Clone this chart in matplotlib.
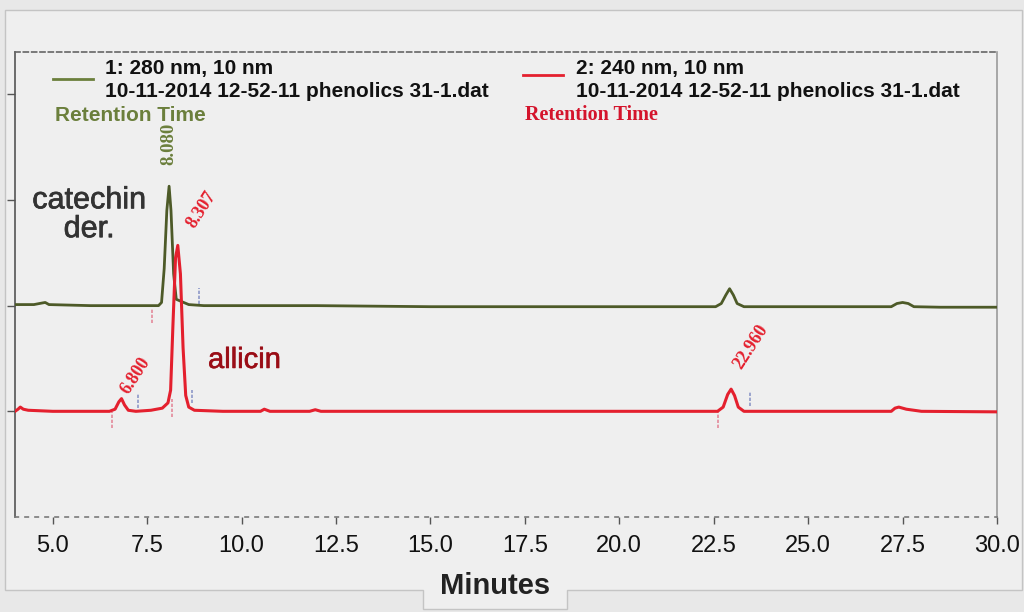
import matplotlib
matplotlib.use("Agg")
import matplotlib.pyplot as plt
import matplotlib.patheffects as pe
from matplotlib.patches import PathPatch
from matplotlib.path import Path
from matplotlib.lines import Line2D

W, H = 1024, 612

# Channel 1: 280 nm trace (minutes, signal)
ch1_time = [4.0, 4.5, 4.72, 4.8, 4.9, 6.0, 7.0, 7.8, 7.88, 7.95, 8.02, 8.08,
            8.13, 8.2, 8.27, 8.4, 8.6, 9.0, 12.0, 15.0, 20.0, 22.55, 22.7,
            22.82, 22.92, 23.02, 23.12, 23.3, 25.0, 27.2, 27.35, 27.5, 27.65,
            27.8, 28.5, 30.0]
ch1_signal = [2.01, 2.01, 2.025, 2.03, 2.01, 2.0, 2.0, 2.0, 2.03, 2.35, 2.9,
              3.13, 2.9, 2.3, 2.06, 2.04, 2.01, 2.0, 2.0, 1.99, 1.99, 1.99,
              2.02, 2.1, 2.16, 2.1, 2.02, 1.99, 1.99, 1.99, 2.02, 2.03, 2.02,
              1.99, 1.985, 1.985]

# Channel 2: 240 nm trace
ch2_time = [4.0, 4.08, 4.14, 4.22, 4.35, 5.0, 6.5, 6.65, 6.75, 6.82, 6.9,
            7.0, 7.2, 7.6, 7.9, 8.05, 8.12, 8.18, 8.25, 8.31, 8.38, 8.45,
            8.52, 8.6, 8.75, 9.5, 10.5, 10.6, 10.75, 11.8, 11.95, 12.1, 15.0,
            20.0, 22.6, 22.75, 22.87, 22.96, 23.05, 23.15, 23.3, 25.0, 27.2,
            27.3, 27.4, 27.6, 28.0, 30.0]
ch2_signal = [1.0, 1.02, 1.04, 1.02, 1.01, 1.0, 1.0, 1.02, 1.09, 1.12, 1.06,
              1.01, 1.0, 1.01, 1.03, 1.08, 1.2, 1.8, 2.45, 2.57, 2.3, 1.6,
              1.15, 1.04, 1.01, 1.0, 1.0, 1.02, 1.0, 1.0, 1.015, 1.0, 1.0,
              1.0, 1.0, 1.04, 1.16, 1.21, 1.15, 1.04, 1.0, 1.0, 1.0, 1.03,
              1.04, 1.02, 1.0, 0.995]

# Retention time labels
ch1_peak_times = ["8.080"]
ch1_peak_pos = [(8.08, 3.33)]
ch2_peak_times = ["6.800", "8.307", "22.960"]
ch2_peak_pos = [(6.70, 1.13), (8.45, 2.70), (22.94, 1.37)]

# Integration start / end markers: (time, y_low, y_high)
ch1_starts = [(7.63, 1.84, 1.98)]
ch1_ends = [(8.87, 2.02, 2.17)]
ch2_starts = [(6.57, 0.84, 0.99), (8.16, 0.95, 1.12), (22.62, 0.84, 0.99)]
ch2_ends = [(7.26, 1.03, 1.17), (8.69, 1.08, 1.20), (23.47, 1.05, 1.19)]

x_ticks = [5.0, 7.5, 10.0, 12.5, 15.0, 17.5, 20.0, 22.5, 25.0, 27.5, 30.0]
x_ticklabels = ["5.0", "7.5", "10.0", "12.5", "15.0", "17.5", "20.0", "22.5",
                "25.0", "27.5", "30.0"]

GREEN = "#4d5a28"
GREEN_TXT = "#6b7f3c"
RED = "#e4202e"
DARKRED = "#9a0d16"
PINK = "#e38a9a"
BLUE = "#8d98c8"


def fx(x):
    return x / W


def fy(y):
    return 1 - y / H


fig = plt.figure(figsize=(W / 100, H / 100), dpi=100, facecolor="#e8e8e8")

# Panel background with the tab holding the axis title
verts = [(5, 10), (1022, 10), (1022, 590), (567, 590), (567, 609), (423, 609),
         (423, 590), (5, 590), (5, 10)]
panel = Path([(fx(a), fy(b)) for a, b in verts], closed=True)
fig.patches.append(PathPatch(panel, transform=fig.transFigure,
                             facecolor="#efefef", edgecolor="#c4c4c4", lw=1.0,
                             zorder=-5))

ax = fig.add_axes([fx(15), fy(517), fx(997) - fx(15), fy(52) - fy(517)])
ax.set_zorder(2)
ax.set_facecolor("none")
ax.set_xlim(4.0, 30.0)
ax.set_ylim(0.0, 4.4)

ax.plot(ch1_time, ch1_signal, color=GREEN, lw=2.0, zorder=3,
        solid_joinstyle="round")
ax.plot(ch2_time, ch2_signal, color=RED, lw=2.2, zorder=4,
        solid_joinstyle="round")

for t, lo, hi in ch1_starts + ch2_starts:
    ax.plot([t, t], [lo, hi], color=PINK, lw=1.2, ls=(0, (2, 1)), zorder=2)
for t, lo, hi in ch1_ends + ch2_ends:
    ax.plot([t, t], [lo, hi], color=BLUE, lw=1.2, ls=(0, (2, 1)), zorder=2)

serif = ["Liberation Serif", "DejaVu Serif"]
for lab, (t, y) in zip(ch1_peak_times, ch1_peak_pos):
    ax.text(t, y, lab, rotation=90, ha="center", va="bottom", color=GREEN_TXT,
            fontsize=13.5, fontweight="bold", family=serif)
for lab, (t, y) in zip(ch2_peak_times, ch2_peak_pos):
    ax.text(t, y, lab, rotation=57, ha="left", va="bottom", color=RED,
            fontsize=13, fontweight="bold", family=serif)

sans = ["Liberation Sans", "DejaVu Sans"]
ax.text(5.96, 2.86, "catechin\nder.", ha="center", va="center",
        color="#333333", fontsize=22, family=sans, linespacing=0.95,
        path_effects=[pe.withStroke(linewidth=0.5, foreground="#333333")])
ax.text(9.11, 1.41, "allicin", ha="left", va="baseline", color=DARKRED,
        fontsize=21, family=sans,
        path_effects=[pe.withStroke(linewidth=0.4, foreground=DARKRED)])

# Spines and ticks
for s in ax.spines.values():
    s.set_linewidth(1.2)
ax.spines["left"].set_color("#555555")
ax.spines["bottom"].set_color("#7a7a7a")
ax.spines["bottom"].set_linestyle((0, (2, 4)))
ax.spines["top"].set_color("#666666")
ax.spines["top"].set_linestyle((0, (3, 2)))
ax.spines["right"].set_color("#9a9a9a")

ax.set_xticks(x_ticks)
ax.set_xticklabels(x_ticklabels, family=sans, fontsize=17, color="#111111")
ax.tick_params(axis="x", direction="out", length=5, width=1.0,
               color="#555555", pad=8)
ax.set_yticks([1, 2, 3, 4])
ax.set_yticklabels([])
ax.tick_params(axis="y", direction="out", length=6, width=1.0,
               color="#555555")

fig.text(fx(495), fy(594), "Minutes", ha="center", va="baseline",
         fontsize=21, fontweight="bold", color="#222222", family=sans)

# Channel legend
fig.lines.append(Line2D([fx(53), fx(93)], [fy(79), fy(79)], color=GREEN_TXT,
                        lw=2.0, transform=fig.transFigure))
fig.lines.append(Line2D([fx(523), fx(563)], [fy(75), fy(75)], color=RED,
                        lw=2.0, transform=fig.transFigure))
legend_kw = dict(fontsize=15, fontweight="bold", color="#111111",
                 family=sans, va="baseline", ha="left")
fig.text(fx(105), fy(74), "1: 280 nm, 10 nm", **legend_kw)
fig.text(fx(105), fy(97), "10-11-2014 12-52-11 phenolics 31-1.dat", **legend_kw)
fig.text(fx(576), fy(74), "2: 240 nm, 10 nm", **legend_kw)
fig.text(fx(576), fy(97), "10-11-2014 12-52-11 phenolics 31-1.dat", **legend_kw)
fig.text(fx(55), fy(121), "Retention Time", fontsize=15, fontweight="bold",
         color=GREEN_TXT, family=sans, va="baseline", ha="left")
fig.text(fx(525), fy(120), "Retention Time", fontsize=14.5, fontweight="bold",
         color="#d4142c", family=serif, va="baseline", ha="left")

fig.savefig("out.png", dpi=100, facecolor=fig.get_facecolor())
